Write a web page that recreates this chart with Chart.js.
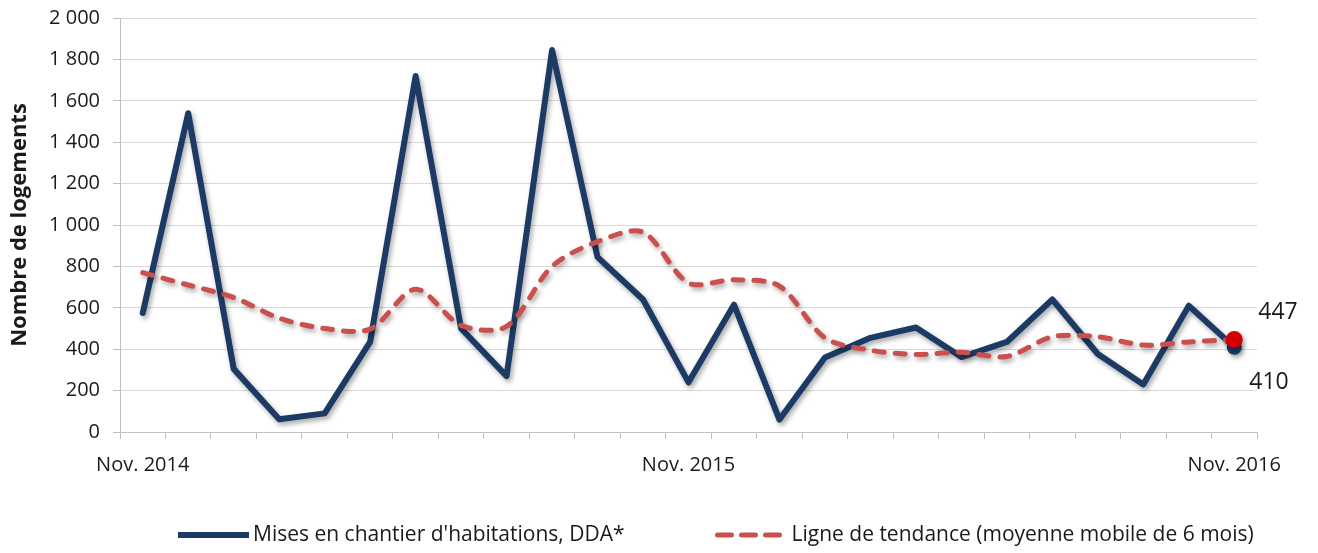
<!DOCTYPE html>
<html><head><meta charset="utf-8">
<script src="https://cdn.jsdelivr.net/npm/chart.js@4/dist/chart.umd.min.js"></script>
<style>html,body{margin:0;padding:0;background:#fff;} #wrap{width:1318px;height:553px;position:relative;}</style>
</head><body><div id="wrap"><canvas id="c"></canvas></div>
<script>
const categories = ['Nov. 2014','Déc. 2014','Janv. 2015','Févr. 2015','Mars 2015','Avr. 2015','Mai 2015','Juin 2015','Juil. 2015','Août 2015','Sept. 2015','Oct. 2015','Nov. 2015','Déc. 2015','Janv. 2016','Févr. 2016','Mars 2016','Avr. 2016','Mai 2016','Juin 2016','Juil. 2016','Août 2016','Sept. 2016','Oct. 2016','Nov. 2016'];
const tickLabels = ['Nov. 2014','Nov. 2015','Nov. 2016'];
const misesEnChantier = [575,1540,305,62,90,435,1720,500,270,1845,845,640,240,615,60,360,455,505,362,435,640,377,230,610,410];
const tendance = [770,710,650,550,500,497,690,515,510,800,920,965,720,735,705,455,395,375,385,365,460,460,420,435,447];
const seriesNames = ["Mises en chantier d'habitations, DDA*", "Ligne de tendance (moyenne mobile de 6 mois)"];
const yAxisTitle = 'Nombre de logements';

const FONT = '"Open Sans", "Liberation Sans", sans-serif';
const BLUE = '#1b3a64';
const RED = '#c9504d';
const last = categories.length - 1;
const lastOnly = r => categories.map((_, i) => i === last ? r : 0);

const shadowPlugin = {
  id: 'shadow',
  beforeDatasetDraw(chart) {
    const c = chart.ctx; c.save();
    c.shadowColor = 'rgba(0,0,0,0.35)'; c.shadowBlur = 5; c.shadowOffsetX = 2; c.shadowOffsetY = 3;
  },
  afterDatasetDraw(chart) { chart.ctx.restore(); }
};

const endLabels = {
  id: 'endLabels',
  afterDatasetsDraw(chart) {
    const ctx = chart.ctx;
    const pBlue = chart.getDatasetMeta(0).data[last];
    const pRed = chart.getDatasetMeta(1).data[last];
    ctx.save();
    ctx.font = '23px ' + FONT;
    ctx.fillStyle = '#1a1a1a';
    ctx.textBaseline = 'middle';
    ctx.textAlign = 'left';
    ctx.fillText(String(tendance[last]), pRed.x + 24, pRed.y - 27);
    ctx.fillText(String(misesEnChantier[last]), pBlue.x + 15, pBlue.y + 35);
    ctx.restore();
  }
};

const legendPlugin = {
  id: 'customLegend',
  afterDraw(chart) {
    const ctx = chart.ctx;
    const y = 535;
    ctx.save();
    ctx.font = '21px ' + FONT;
    ctx.fillStyle = '#1a1a1a';
    ctx.textBaseline = 'middle';
    let x = 178;
    chart.data.datasets.forEach((ds, i) => {
      const len = i === 0 ? 71 : 62;
      const x0 = i === 0 ? x : x + 3;
      ctx.strokeStyle = ds.borderColor;
      ctx.lineWidth = ds.borderWidth;
      ctx.lineCap = i === 0 ? 'butt' : 'round';
      ctx.setLineDash(i === 0 ? [] : [14, 10]);
      ctx.beginPath(); ctx.moveTo(x0, y); ctx.lineTo(x0 + len, y); ctx.stroke();
      ctx.setLineDash([]);
      const tx = i === 0 ? x + 75 : x + 77;
      ctx.fillText(ds.label, tx, y);
      x = tx + ctx.measureText(ds.label).width + 90;
    });
    ctx.restore();
  }
};

new Chart(document.getElementById('c'), {
  type: 'line',
  data: {
    labels: categories,
    datasets: [
      {
        label: seriesNames[0], data: misesEnChantier,
        borderColor: BLUE, backgroundColor: BLUE, borderWidth: 6,
        tension: 0, borderJoinStyle: 'round', borderCapStyle: 'round',
        pointRadius: lastOnly(7.5), pointHoverRadius: lastOnly(7.5),
        pointBackgroundColor: BLUE, pointBorderWidth: 0,
        order: 1
      },
      {
        label: seriesNames[1], data: tendance,
        borderColor: RED, backgroundColor: RED, borderWidth: 5,
        borderDash: [10, 11], borderCapStyle: 'round', borderJoinStyle: 'round',
        tension: 0.3,
        pointRadius: lastOnly(8.5), pointHoverRadius: lastOnly(8.5),
        pointBackgroundColor: '#d40000', pointBorderWidth: 0,
        order: 0
      }
    ]
  },
  options: {
    responsive: true, maintainAspectRatio: false, animation: false,
    layout: { padding: { top: 18, right: 61, bottom: 0, left: 0 } },
    plugins: { legend: { display: false }, tooltip: { enabled: false } },
    scales: {
      x: {
        offset: true,
        afterFit(s) { s.height = 121; s.paddingLeft = 0; s.paddingRight = 0; },
        grid: { offset: true, drawOnChartArea: false, drawTicks: true, tickLength: 7, color: '#bfbfbf' },
        border: { display: true, color: '#bfbfbf', width: 1 },
        ticks: {
          autoSkip: false, maxRotation: 0, minRotation: 0, padding: 14,
          color: '#1a1a1a', font: { family: FONT, size: 20 },
          callback(v) { const l = this.getLabelForValue(v); return tickLabels.includes(l) ? l : ''; }
        }
      },
      y: {
        min: 0, max: 2000,
        afterFit(s) { s.width = 120; s.paddingTop = 0; s.paddingBottom = 0; },
        grid: { color: '#d9d9d9', drawTicks: true, tickLength: 7, tickColor: '#bfbfbf' },
        border: { display: true, color: '#bfbfbf', width: 1 },
        ticks: {
          stepSize: 200, padding: 13, color: '#1a1a1a', font: { family: FONT, size: 20 },
          callback(v) { return String(v).replace(/\B(?=(\d{3})+(?!\d))/g, ' '); }
        },
        title: { display: true, text: yAxisTitle, color: '#1a1a1a', font: { family: FONT, size: 22, weight: 'bold' }, padding: { top: 7, bottom: 0 } }
      }
    }
  },
  plugins: [shadowPlugin, endLabels, legendPlugin]
});
</script></body></html>
